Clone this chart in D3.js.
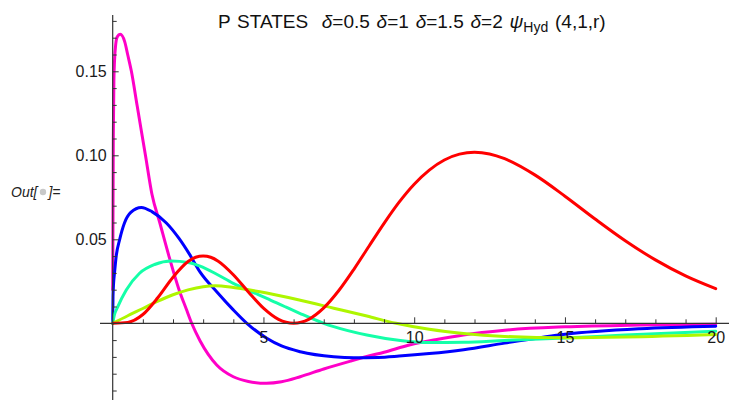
<!DOCTYPE html>
<html>
<head>
<meta charset="utf-8">
<script src="https://cdn.jsdelivr.net/npm/d3@7"></script>
<style>
  html, body { margin: 0; padding: 0; background: #fff; }
  svg { display: block; font-family: "Liberation Sans", Arial, sans-serif; }
  text { white-space: pre; }
</style>
</head>
<body>
<svg id="chart" width="732" height="400"></svg>
<script>
// Radial curves, [r, value] samples
const curveMagenta = [
  [0, 0.020], [0.02, 0.110], [0.04, 0.145], [0.06, 0.156], [0.1, 0.166], [0.15, 0.1705],
  [0.25, 0.172], [0.4, 0.1675], [0.5, 0.1597], [0.62, 0.150], [0.81, 0.1296],
  [1.09, 0.0996], [1.3, 0.077], [1.56, 0.0600], [1.87, 0.0397], [2.2, 0.0200],
  [2.44, 0.0085], [2.62, 0.0], [2.9, -0.0105], [3.45, -0.0248], [4.0, -0.0318],
  [4.5, -0.0346], [5.1, -0.0357], [5.6, -0.0348], [6.22, -0.0318], [7.0, -0.0272],
  [7.89, -0.0225], [8.43, -0.0198], [9.0, -0.0172], [9.87, -0.0128], [10.7, -0.0098],
  [11.63, -0.0069], [13, -0.0041], [15, -0.0021], [17.5, -0.0010], [20, -0.0005]
];
const curveBlue = [
  [0, 0.0], [0.01, 0.016], [0.03, 0.024], [0.06, 0.0300], [0.12, 0.0405],
  [0.23, 0.0498], [0.39, 0.0597], [0.6, 0.0660], [0.95, 0.0690], [1.3, 0.0665],
  [1.78, 0.0597], [2.2, 0.0505], [2.55, 0.0410], [2.9, 0.0305], [3.45, 0.0188],
  [4.0, 0.0080], [4.45, 0.0], [5.11, -0.0089], [5.6, -0.0135], [6.22, -0.0169],
  [7.33, -0.0199], [8.0, -0.0205], [8.8, -0.0203], [9.5, -0.0195], [10.5, -0.0180],
  [11.64, -0.0157], [13, -0.0118], [15, -0.0065], [17.5, -0.0032], [20, -0.0017]
];
const curveCyan = [
  [0, 0.0], [0.05, 0.0045], [0.17, 0.0099], [0.45, 0.0198], [0.89, 0.0298],
  [1.39, 0.0350], [1.95, 0.0371], [2.5, 0.0362], [2.9, 0.0340], [3.45, 0.0292],
  [4.0, 0.0238], [4.56, 0.0192], [5.11, 0.0149], [5.7, 0.0100], [6.22, 0.0058],
  [7.0, 0.0], [7.33, -0.0020], [8.43, -0.0070], [9.54, -0.0103], [10.5, -0.0115],
  [11.64, -0.0113], [13, -0.0102], [15, -0.0087], [17, -0.0070], [20, -0.0047]
];
const curveLime = [
  [0, 0.0], [0.5, 0.0045], [1.0, 0.0088], [1.5, 0.0132], [2.0, 0.0170],
  [2.5, 0.0199], [3.0, 0.0218], [3.4, 0.0223], [4.0, 0.0213], [4.56, 0.0198],
  [5.11, 0.0180], [6.22, 0.0137], [7.33, 0.0090], [8.43, 0.0043], [9.4, 0.0],
  [10.5, -0.0036], [11.64, -0.0061], [13, -0.0078], [15, -0.0086], [17, -0.0082],
  [20, -0.0067]
];
const curveRed = [
  [0, 0.0], [0.5, 0.00055], [1, 0.00522], [1.5, 0.01533], [2, 0.02743], [2.5, 0.03674],
  [2.75, 0.0393], [3, 0.04009], [3.25, 0.0393], [3.5, 0.03697], [4, 0.02892],
  [4.5, 0.01867], [5, 0.00906], [5.5, 0.00238], [5.75, 0.0006], [6, 0.0],
  [6.25, 0.0006], [6.5, 0.00238], [7, 0.00918], [7.5, 0.0195], [8, 0.03215],
  [8.5, 0.04589], [9, 0.0595], [9.5, 0.0721], [10, 0.08278], [10.5, 0.0912],
  [11, 0.0972], [11.5, 0.1007], [12, 0.1018], [12.5, 0.1008], [13, 0.09796],
  [14, 0.08834], [15, 0.07567], [16, 0.0621], [17, 0.04917], [18, 0.03775],
  [19, 0.02824], [20, 0.02064]
];

const seriesList = [curveMagenta, curveBlue, curveCyan, curveLime, curveRed];
const seriesColors = ["#ff00c8", "#0000ff", "#14ffa8", "#aef600", "#ff0000"];

const xMajor = [5, 10, 15, 20];
const xMinor = d3.range(1, 20).filter(v => v % 5 !== 0);
const yMajor = [0.05, 0.10, 0.15];
const yMinor = d3.range(-4, 19).map(v => v / 100).filter(v => Math.round(v * 100) % 5 !== 0);

const deltaLabels = ["0.5", "1", "1.5", "2"];

const svg = d3.select("#chart");

const x = d3.scaleLinear().domain([0, 20]).range([112.7, 715.7]);
const y = d3.scaleLinear().domain([0, 0.15]).range([323.3, 71.3]);

const axisColor = "#333";

// curves
const line = d3.line()
  .x(d => x(d[0]))
  .y(d => y(d[1]))
  .curve(d3.curveMonotoneX);

svg.append("g")
  .selectAll("path")
  .data(seriesList)
  .join("path")
  .attr("d", line)
  .attr("fill", "none")
  .attr("stroke", (d, i) => seriesColors[i])
  .attr("stroke-width", 3)
  .attr("stroke-linejoin", "round")
  .attr("stroke-linecap", "round");

// axis lines
svg.append("line")
  .attr("x1", 100).attr("x2", 729)
  .attr("y1", y(0)).attr("y2", y(0))
  .attr("stroke", axisColor).attr("stroke-width", 1.2);
svg.append("line")
  .attr("x1", x(0)).attr("x2", x(0))
  .attr("y1", 15).attr("y2", 400)
  .attr("stroke", axisColor).attr("stroke-width", 1.2);

// x axis ticks, drawn upward
const gx = svg.append("g").attr("transform", `translate(0,${y(0)})`);
gx.call(d3.axisBottom(x).tickValues(xMajor).tickSizeInner(-6).tickSizeOuter(0).tickPadding(8).tickFormat(d3.format("d")));
const gxm = svg.append("g").attr("transform", `translate(0,${y(0)})`);
gxm.call(d3.axisBottom(x).tickValues(xMinor).tickSizeInner(-4).tickSizeOuter(0).tickFormat(""));

// y axis ticks, drawn to the right
const gy = svg.append("g").attr("transform", `translate(${x(0)},0)`);
gy.call(d3.axisLeft(y).tickValues(yMajor).tickSizeInner(-6).tickSizeOuter(0).tickPadding(6).tickFormat(d3.format(".2f")));
const gym = svg.append("g").attr("transform", `translate(${x(0)},0)`);
gym.call(d3.axisLeft(y).tickValues(yMinor).tickSizeInner(-4).tickSizeOuter(0).tickFormat(""));

svg.selectAll(".domain").remove();
svg.selectAll(".tick line").attr("stroke", axisColor).attr("stroke-width", 1);
svg.selectAll(".tick text")
  .attr("fill", "#1a1a1a")
  .style("font-family", "'Liberation Sans', Arial, sans-serif")
  .style("font-size", "16px");

// title
const title = svg.append("text")
  .attr("x", 218).attr("y", 28)
  .attr("fill", "#111")
  .style("font-size", "19px")
  .style("word-spacing", "1.5px");
title.append("tspan").text("P STATES  ");
deltaLabels.forEach(p => {
  title.append("tspan").style("font-style", "italic").text("\u03b4");
  title.append("tspan").text("=" + p + " ");
});
title.append("tspan").style("font-style", "italic").text("\u03c8");
title.append("tspan").attr("dy", 4).style("font-size", "14px").text("Hyd");
title.append("tspan").attr("dy", -4).text(" (4,1,r)");

// output cell label
const outG = svg.append("g").attr("transform", "translate(11,197)");
const outA = outG.append("text")
  .style("font-style", "italic").style("font-size", "14px").attr("fill", "#222")
  .text("Out[");
const wA = outA.node().getComputedTextLength();
outG.append("circle").attr("cx", wA + 5.5).attr("cy", -5).attr("r", 3.2).attr("fill", "#c8c8c8");
outG.append("text").attr("x", wA + 11)
  .style("font-style", "italic").style("font-size", "14px").attr("fill", "#222")
  .text("]=");
</script>
</body>
</html>
